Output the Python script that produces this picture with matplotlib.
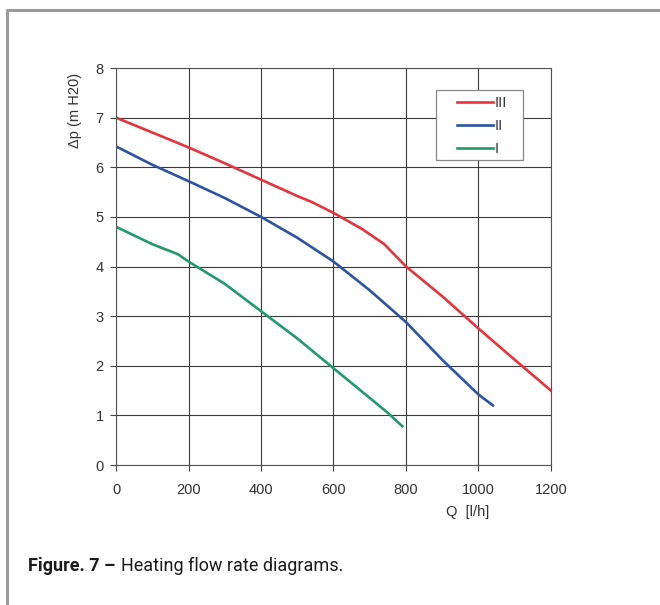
import matplotlib.pyplot as plt
from matplotlib.lines import Line2D
from matplotlib.patches import Rectangle

q_III = [0, 100, 200, 300, 400, 500, 540, 600, 680, 740, 800, 900, 1000, 1100, 1200]
dp_III = [7.0, 6.7, 6.4, 6.08, 5.75, 5.42, 5.3, 5.08, 4.75, 4.45, 4.0, 3.4, 2.75, 2.12, 1.5]
q_II = [0, 100, 200, 300, 400, 500, 600, 700, 800, 900, 1000, 1040]
dp_II = [6.42, 6.05, 5.72, 5.38, 5.0, 4.58, 4.1, 3.52, 2.88, 2.12, 1.42, 1.2]
q_I = [0, 100, 170, 200, 300, 400, 500, 600, 700, 750, 790]
dp_I = [4.8, 4.45, 4.25, 4.1, 3.65, 3.1, 2.55, 1.95, 1.35, 1.05, 0.78]
x_ticks = [0, 200, 400, 600, 800, 1000, 1200]
y_ticks = [0, 1, 2, 3, 4, 5, 6, 7, 8]
labels = ['III', 'II', 'I']
colors = ['#e8323c', '#2c54a4', '#1f9b6c']

plt.rcParams['font.family'] = ['Liberation Sans', 'DejaVu Sans']

fig = plt.figure(figsize=(6.6, 6.05), dpi=100)
ax = fig.add_axes([0.1758, 0.2314, 0.659, 0.6562])

ax.plot(q_III, dp_III, color=colors[0], lw=1.9, label=labels[0])
ax.plot(q_II, dp_II, color=colors[1], lw=1.9, label=labels[1])
ax.plot(q_I, dp_I, color=colors[2], lw=1.9, label=labels[2])

ax.set_xlim(0, 1200)
ax.set_ylim(0, 8)
ax.set_xticks(x_ticks)
ax.set_yticks(y_ticks)
ax.grid(True, color='#3a3a3a', lw=0.8)
ax.set_axisbelow(True)
for s in ax.spines.values():
    s.set_color('#555555')
    s.set_linewidth(0.8)
ax.tick_params(direction='out', length=4, width=0.8, color='#444444',
               labelsize=10.5, labelcolor='#333333', pad=5)
ax.tick_params(axis='x', pad=9)

# legend box drawn separately so its padding matches the picture
ax.add_patch(Rectangle((0.7356, 0.768), 0.2, 0.1766, transform=ax.transAxes,
                       facecolor='white', edgecolor='#888888', lw=0.9, zorder=4))
leg = ax.legend(loc='upper left', bbox_to_anchor=(0.784, 0.93), fontsize=10.5,
                handlelength=2.5, handletextpad=0.1, labelspacing=0.62,
                borderpad=0, borderaxespad=0, frameon=False)
leg.set_zorder(5)
for t in leg.get_texts():
    t.set_color('#333333')

fig.text(75 / 660, 1 - 110 / 605, 'Δp (m H20)', rotation=90, ha='center', va='center',
         fontsize=10.5, color='#333333')
fig.text(468 / 660, 1 - 512 / 605, 'Q  [l/h]', ha='center', va='center',
         fontsize=10.5, color='#333333')

# outer frame (top and left only)
fig.add_artist(Line2D([7 / 660, 7 / 660, 1], [0, 1 - 10 / 605, 1 - 10 / 605],
                      transform=fig.transFigure, color='#9a9a9a', lw=2.2))

cap1 = fig.text(28 / 660, 1 - 566 / 605, 'Figure. 7 \u2013', fontsize=13, fontweight='bold',
                family=['Roboto', 'DejaVu Sans'], color='#1a1a1a', va='center')
fig.canvas.draw()
bb = cap1.get_window_extent()
fig.text((bb.x1 + 6) / 660, 1 - 566 / 605, 'Heating flow rate diagrams.', fontsize=13,
         family=['Roboto', 'DejaVu Sans'], color='#1a1a1a', va='center')

fig.savefig('out.png', dpi=100)
